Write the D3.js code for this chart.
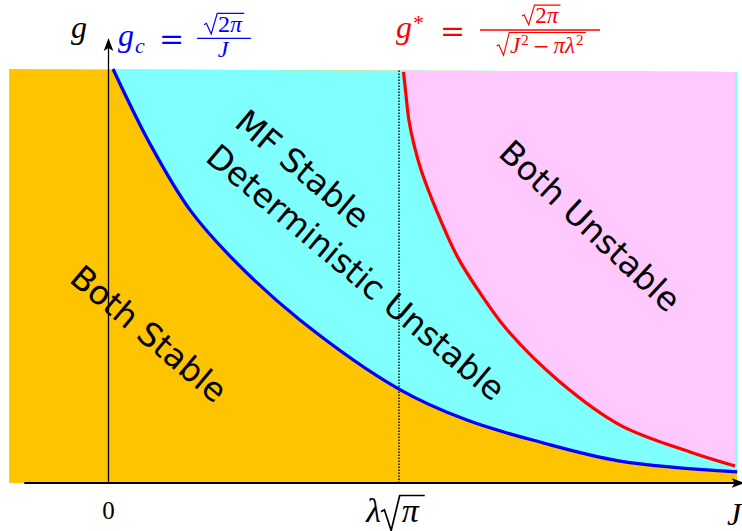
<!DOCTYPE html>
<meta charset="utf-8">
<style>
body { margin: 0; background: #fff; }
svg { display: block; }
.region { font-family: "DejaVu Sans", sans-serif; font-size: 33px; fill: #000; }
</style>
<svg id="chart" width="742" height="531"></svg>
<script src="https://d3js.org/d3.v7.min.js"></script>
<script>

// J is measured in units of lambda*sqrt(pi), g in plot units (0..10 = frame height).
var frameJ = [-0.342, 2.164],   // left / right edge of the coloured frame
    frameTop = [10, 9.93],      // g of the top edge at the left / right
    axisJ = [-0.29, 2.19];      // extent of the J axis arrow

// g_c = sqrt(2pi)/J  (blue)
var blueJ = [0.0155, 0.143, 0.281, 0.442, 0.659, 1.000, 1.234, 1.485, 1.761, 2.164],
    blueG = [10.0, 8.19, 6.59, 5.31, 3.94, 2.27, 1.52, 0.99, 0.53, 0.27];

// g* = sqrt(2pi)/sqrt(J^2 - pi lambda^2)  (red)
var redJ = [1.0155, 1.024, 1.034, 1.052, 1.076, 1.131, 1.200, 1.279, 1.372, 1.554, 1.761, 2.002, 2.157],
    redG = [9.93, 9.37, 8.77, 8.16, 7.56, 6.55, 5.48, 4.59, 3.70, 2.44, 1.40, 0.75, 0.41];

var xTicks = [0, 1];

var svg = d3.select("svg"),
    g = svg.append("g");

var x = d3.scaleLinear().domain([0, 1]).range([108.5, 399]),
    y = d3.scaleLinear().domain([0, 10]).range([483, 69]),
    topEdge = d3.scaleLinear().domain(frameJ).range(frameTop);

var blue = blueJ.map(function(j, i) { return [j, blueG[i]]; }),
    red = redJ.map(function(j, i) { return [j, redG[i]]; });

var curve = d3.curveCatmullRom.alpha(0.5);

var line = d3.line()
    .x(function(d) { return x(d[0]); })
    .y(function(d) { return y(d[1]); })
    .curve(curve);

var area = d3.area()
    .x(function(d) { return x(d[0]); })
    .y0(function(d) { return y(topEdge(d[0])); })
    .y1(function(d) { return y(d[1]); })
    .curve(curve);

// orange frame
g.append("path")
    .attr("fill", "#ffc400")
    .attr("d", d3.line()([
      [x(frameJ[0]), y(0)], [x(frameJ[1]), y(0)],
      [x(frameJ[1]), y(frameTop[1])], [x(frameJ[0]), y(frameTop[0])]
    ]));

g.append("path").attr("fill", "#80ffff").attr("d", area(blue));
g.append("path").attr("fill", "#ffc8ff").attr("d", area(red));

// dotted guide at J = lambda sqrt(pi)
g.append("line")
    .attr("x1", x(1)).attr("x2", x(1))
    .attr("y1", y(0)).attr("y2", y(topEdge(1)))
    .attr("stroke", "#000")
    .attr("stroke-width", 1.4)
    .attr("stroke-dasharray", "1.5,1.5");

g.append("path").attr("fill", "none").attr("stroke", "#0000ff").attr("stroke-width", 3.2).attr("d", line(blue));
g.append("path").attr("fill", "none").attr("stroke", "#ff0000").attr("stroke-width", 3.2).attr("d", line(red));

// axes
g.append("line")
    .attr("x1", x(axisJ[0])).attr("x2", x(axisJ[1]) - 6)
    .attr("y1", y(0)).attr("y2", y(0))
    .attr("stroke", "#000").attr("stroke-width", 2);
g.append("line")
    .attr("x1", x(0)).attr("x2", x(0))
    .attr("y1", y(0)).attr("y2", 46)
    .attr("stroke", "#000").attr("stroke-width", 1.3);

function arrow(tx, ty, angle) {
  g.append("path")
      .attr("transform", "translate(" + tx + "," + ty + ") rotate(" + angle + ")")
      .attr("d", "M0,0 L-13,-4.8 L-10,0 L-13,4.8 Z")
      .attr("fill", "#000");
}
arrow(x(axisJ[1]), y(0), 0);
arrow(x(0), 38, -90);

// region labels
g.append("text").attr("class", "region")
    .attr("transform", "translate(68,281) rotate(40)")
    .text("Both Stable");

var mid = g.append("text").attr("class", "region")
    .attr("transform", "translate(204,160) rotate(40)");
mid.append("tspan").attr("x", 0).attr("y", -45).text("MF Stable");
mid.append("tspan").attr("x", 0).attr("y", 0).text("Deterministic Unstable");

g.append("text").attr("class", "region")
    .attr("transform", "translate(497,155) rotate(43)")
    .text("Both Unstable");

// small math typesetting helpers
function run(parent, x0, y0, parts, color) {
  var r = parent.append("g"), cx = 0;
  parts.forEach(function(p) {
    cx += p.dx || 0;
    var t = r.append("text")
        .attr("x", cx).attr("y", p.dy || 0)
        .attr("font-size", p.s)
        .attr("fill", color)
        .style("font-family", p.f || "'Liberation Serif', serif")
        .style("font-style", p.it ? "italic" : "normal")
        .text(p.t);
    cx += t.node().getComputedTextLength() + (p.dr || 0);
  });
  r.attr("transform", "translate(" + x0 + "," + y0 + ")");
  r.w = cx;
  return r;
}

function radical(parent, x0, y0, s, w, color, desc, hk) {
  var p = d3.path(), h = (hk || 0.78) * s;
  p.moveTo(x0, y0 - 0.3 * s);
  p.lineTo(x0 + 0.1 * s, y0 - 0.36 * s);
  p.lineTo(x0 + 0.3 * s, y0 + (desc || 0.08) * s);
  p.lineTo(x0 + 0.55 * s, y0 - h);
  p.lineTo(x0 + 0.55 * s + w, y0 - h);
  parent.append("path").attr("d", p.toString())
      .attr("fill", "none").attr("stroke", color)
      .attr("stroke-width", Math.max(1, s * 0.05))
      .attr("stroke-linejoin", "miter");
}

function measure(parts) {
  var probe = run(g, 0, -1000, parts, "#000"), w = probe.w;
  probe.remove();
  return w;
}

// radical + content, centred on cx
function sqrtRun(parent, cx, y0, s, parts, color, desc, hk) {
  var w = measure(parts),
      total = 0.58 * s + w + 2,
      x0 = cx - total / 2;
  radical(parent, x0, y0, s, w + 3, color, desc, hk);
  run(parent, x0 + 0.58 * s, y0, parts, color);
}

// "g" of the vertical axis
run(g, 71, 38, [{t: "g", it: true, s: 32}], "#000");

// g_c = sqrt(2pi) / J
var cBlue = "#0000ff";
run(g, 118, 46, [{t: "g", it: true, s: 32}, {t: "c", it: true, s: 22, dy: 7, dx: 1}], cBlue);
run(g, 159, 49, [{t: "=", s: 30, f: "'DejaVu Serif', serif"}], cBlue);
sqrtRun(g, 224, 32, 24, [{t: "2", s: 24}, {t: "π", it: true, s: 24}], cBlue);
g.append("line").attr("x1", 197).attr("x2", 251).attr("y1", 38.3).attr("y2", 38.3)
    .attr("stroke", cBlue).attr("stroke-width", 1.3);
run(g, 224 - measure([{t: "J", it: true, s: 24}]) / 2 - 1, 57, [{t: "J", it: true, s: 24}], cBlue);

// g* = sqrt(2pi) / sqrt(J^2 - pi lambda^2)
var cRed = "#ff0000";
run(g, 396, 38, [{t: "g", it: true, s: 32}, {t: "*", s: 22, dy: -8, dx: 1}], cRed);
run(g, 440, 41, [{t: "=", s: 30, f: "'DejaVu Serif', serif"}], cRed);
sqrtRun(g, 541, 23, 23, [{t: "2", s: 23}, {t: "π", it: true, s: 23}], cRed);
g.append("line").attr("x1", 480).attr("x2", 600).attr("y1", 30).attr("y2", 30)
    .attr("stroke", cRed).attr("stroke-width", 1.3);
sqrtRun(g, 541, 53, 23, [
  {t: "J", it: true, s: 23, dr: 1}, {t: "2", s: 15, dy: -8},
  {t: "−", s: 20, f: "'DejaVu Serif', serif", dx: 4},
  {t: "π", it: true, s: 23, dx: 4}, {t: "λ", it: true, s: 23, dr: 1},
  {t: "2", s: 15, dy: -8}
], cRed, 0.1, 0.89);

// tick labels on the J axis
var zero = [{t: "0", s: 25}];
run(g, x(xTicks[0]) - measure(zero) / 2, 519, zero, "#000");
var lam = [{t: "λ", it: true, s: 34}], pi = [{t: "π", it: true, s: 34}],
    lw = measure(lam), pw = measure(pi),
    tot = lw + 0.58 * 34 + pw + 6, lx = x(xTicks[1]) - 4 - tot / 2;
run(g, lx, 522, lam, "#000");
radical(g, lx + lw, 522, 34, pw + 8, "#000", 0.25);
run(g, lx + lw + 0.58 * 34 + 1, 522, pi, "#000");

run(g, 727, 525, [{t: "J", it: true, s: 32}], "#000");

</script>
